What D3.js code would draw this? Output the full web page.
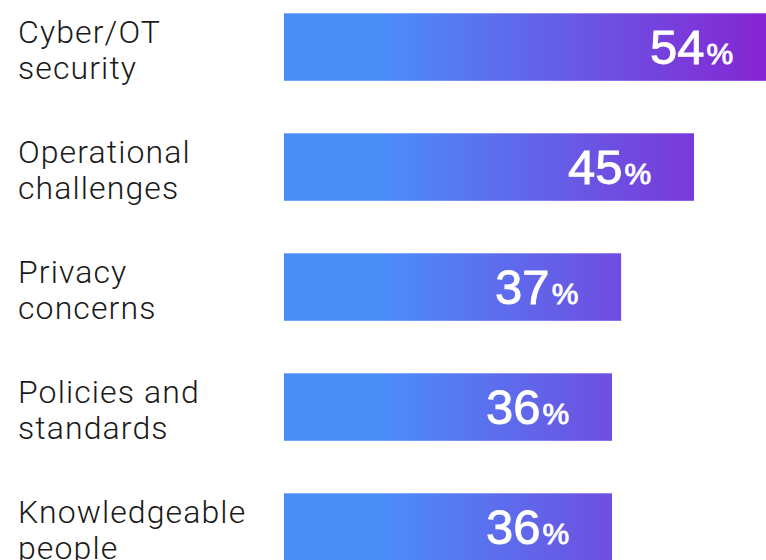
<!DOCTYPE html>
<html>
<head>
<meta charset="utf-8">
<script src="https://cdn.jsdelivr.net/npm/d3@7"></script>
<style>
  html, body { margin: 0; padding: 0; background: #ffffff; overflow: hidden; }
  svg { display: block; }
</style>
</head>
<body>
<script>
const categories = [
  ["Cyber/OT", "security"],
  ["Operational", "challenges"],
  ["Privacy", "concerns"],
  ["Policies and", "standards"],
  ["Knowledgeable", "people"]
];
const values = [54, 45, 37, 36, 36];
const gradientColors = ["#4a8ef8", "#8722d2"];

const W = 766, H = 560;
const svg = d3.select("body").append("svg").attr("width", W).attr("height", H);

const x = d3.scaleLinear().domain([0, 54]).range([284, 776]);
const y = d3.scaleBand()
  .domain(d3.range(categories.length))
  .range([13.3, 560.8])
  .paddingInner(0.4375)
  .paddingOuter(0);

const defs = svg.append("defs");
const grad = defs.append("linearGradient")
  .attr("id", "barGrad")
  .attr("gradientUnits", "userSpaceOnUse")
  .attr("x1", x(10.5)).attr("x2", x(54))
  .attr("y1", 0).attr("y2", 0);
grad.append("stop").attr("offset", "0%").attr("stop-color", gradientColors[0]);
grad.append("stop").attr("offset", "100%").attr("stop-color", gradientColors[1]);

const rows = svg.selectAll("g.row")
  .data(values.map((v, i) => ({ v, i, label: categories[i] })))
  .join("g").attr("class", "row");

rows.append("rect")
  .attr("x", x(0))
  .attr("y", d => y(d.i))
  .attr("width", d => x(d.v) - x(0))
  .attr("height", y.bandwidth())
  .attr("fill", "url(#barGrad)");

const lab = rows.append("text")
  .attr("x", 18)
  .attr("y", d => y(d.i))
  .attr("font-family", "Roboto, 'Noto Sans', sans-serif")
  .attr("font-weight", 300)
  .attr("font-size", 32)
  .attr("letter-spacing", 1.1)
  .attr("fill", "#1a1a1a");
lab.each(function(d) {
  const t = d3.select(this);
  d.label.forEach((line, k) => {
    t.append("tspan")
      .attr("x", 18)
      .attr("y", y(d.i) + 30 + k * 36)
      .text(line);
  });
});

const vt = rows.append("text")
  .attr("x", d => x(d.v) - 126)
  .attr("y", d => y(d.i) + y.bandwidth() / 2 + 17)
  .attr("text-anchor", "start")
  .attr("font-family", "'Liberation Sans', Arial, sans-serif")
  .attr("font-weight", 400)
  .attr("fill", "#ffffff")
  .attr("stroke", "#ffffff")
  .attr("stroke-width", 0.9);
vt.append("tspan").attr("font-size", 49).text(d => d.v);
vt.append("tspan").attr("font-size", 30).attr("dx", 2).text("%");
</script>
</body>
</html>
